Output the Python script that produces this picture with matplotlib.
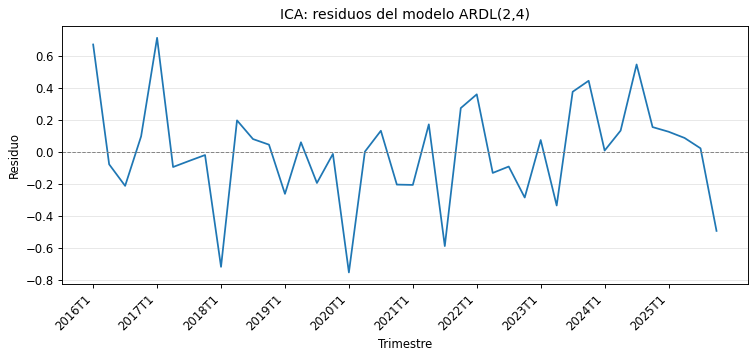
import numpy as np
import matplotlib
matplotlib.use('Agg')
import matplotlib.pyplot as plt

# trimestres 2016T1 .. 2025T4
anios = list(range(2016, 2026))
trimestres = [f'{a}T{q}' for a in anios for q in range(1, 5)]

# residuos
residuos = [0.673, -0.077, -0.212, 0.098, 0.715, -0.094, -0.056, -0.019,
            -0.719, 0.198, 0.081, 0.046, -0.262, 0.061, -0.194, -0.012,
            -0.754, 0.002, 0.133, -0.204, -0.206, 0.173, -0.589, 0.275,
            0.361, -0.131, -0.091, -0.285, 0.075, -0.335, 0.377, 0.446,
            0.009, 0.134, 0.548, 0.156, 0.127, 0.088, 0.023, -0.494]

fig, ax = plt.subplots(figsize=(9, 4.25), dpi=84)
x = np.arange(len(trimestres))
ax.plot(x, residuos, color='#1f77b4', lw=1.5)
ax.axhline(0, color='gray', ls='--', lw=0.8)
ax.grid(axis='y', alpha=0.3)

# solo etiquetas en el primer trimestre de cada anio
pos = [i for i, t in enumerate(trimestres) if t.endswith('T1')]
ax.set_xticks(pos)
ax.set_xticklabels([trimestres[i] for i in pos], rotation=45, ha='right')

ax.set_title('ICA: residuos del modelo ARDL(2,4)')
ax.set_xlabel('Trimestre')
ax.set_ylabel('Residuo')
fig.subplots_adjust(left=0.082, right=0.989, top=0.927, bottom=0.204)
plt.savefig('out.png', dpi=84)
